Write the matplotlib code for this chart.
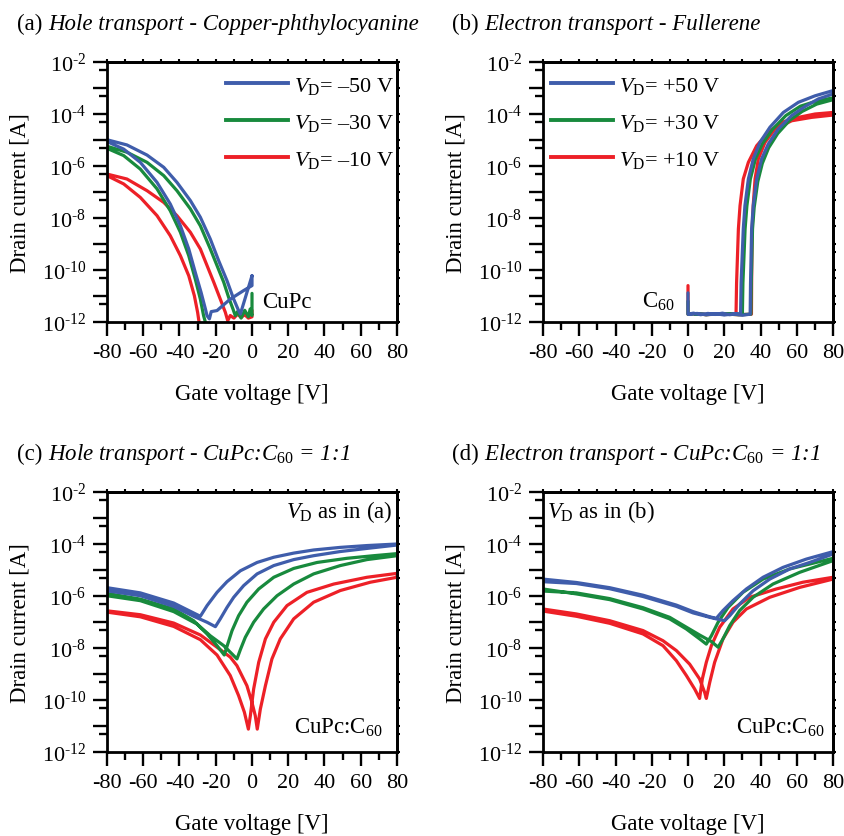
import numpy as np
import matplotlib
matplotlib.use('Agg')
import matplotlib.pyplot as plt
from matplotlib.ticker import FixedLocator, FixedFormatter, NullFormatter
from matplotlib.lines import Line2D

plt.rcParams.update({
    'font.family': ['Liberation Serif', 'DejaVu Serif'],
    'mathtext.fontset': 'custom',
    'mathtext.rm': 'Liberation Serif',
    'mathtext.it': 'Liberation Serif:italic',
    'mathtext.bf': 'Liberation Serif:bold',
    'axes.linewidth': 2.0,
})

# ---------------- data (gate voltage [V], log10 of drain current [A]) ----------------
x_ticks = [-80, -60, -40, -20, 0, 20, 40, 60, 80]
x_tick_labels = ['-80', '-60', '-40', '-20', '0', '20', '40', '60', '80']
x_minor = [-70, -50, -30, -10, 10, 30, 50, 70]
y_exps = list(range(-12, -1))
y_tick_labels = [r'$10^{\text{-%d}}$' % (-e) if e % 2 == 0 else '' for e in y_exps]
y_minor_exps = list(range(-12, -2))

# (a) CuPc, hole transport
a_blue_V = [0.0, -6.4, -7.4, -10.1, -13.8, -18.4, -23.0, -28.5, -34.0, -41.4, -48.7, -57.9, -69.0, -80.0,
            -80.0, -70.8, -61.6, -52.4, -45.1, -39.5, -34.9, -31.3, -28.1, -25.7, -24.8, -23.5, -22.5,
            -19.3, -12.0, -4.6, 0.0, 0.0]
a_blue_L = [-10.22, -11.69, -11.56, -11.12, -10.41, -9.64, -8.81, -7.97, -7.33, -6.63, -6.05, -5.58, -5.19, -4.99,
            -5.06, -5.35, -5.86, -6.63, -7.46, -8.30, -9.19, -10.09, -10.86, -11.5, -11.76, -11.88, -11.6,
            -11.56, -11.12, -10.79, -10.6, -10.22]
a_green_V = [-25.5, -25.7, -26.7, -28.5, -31.3, -34.9, -39.5, -45.1, -52.4, -61.6, -70.8, -80.0,
             -80.0, -69.0, -57.9, -48.7, -41.4, -34.0, -28.5, -23.0, -19.3, -15.6, -12.9, -10.5, -9.2,
             -8.0, -6.0, -4.0, -2.0, -1.0, 0.0, 0.0]
a_green_L = [-12.3, -12.01, -11.76, -11.12, -10.35, -9.45, -8.55, -7.72, -6.88, -6.12, -5.60, -5.32,
             -5.24, -5.47, -5.86, -6.37, -6.95, -7.65, -8.30, -9.19, -9.83, -10.47, -11.05, -11.5, -11.76,
             -11.6, -11.85, -11.55, -11.8, -11.5, -11.75, -10.9]
a_red_V = [-29.0, -29.2, -30.0, -31.8, -34.9, -39.5, -45.1, -52.4, -61.6, -70.8, -80.0,
           -80.0, -69.0, -57.9, -48.7, -41.4, -34.0, -28.5, -24.8, -21.1, -17.5, -14.7, -13.4,
           -12.0, -10.0, -8.0, -6.0, -4.0, -2.0, 0.0, 0.0]
a_red_L = [-12.3, -12.01, -11.63, -10.99, -10.22, -9.45, -8.68, -7.91, -7.21, -6.69, -6.37,
           -6.31, -6.50, -6.95, -7.40, -7.91, -8.55, -9.19, -9.83, -10.47, -11.12, -11.63, -11.95,
           -11.75, -11.85, -11.7, -11.82, -11.72, -11.85, -11.8, -11.55]

# (b) C60, electron transport
b_blue_V = [0.0, 0.0, 3, 7, 11, 15, 19, 23, 27, 29.0,
            29.3, 30.5, 31.4, 33.3, 36.0, 39.7, 45.2, 52.6, 60.9, 70.1, 80.0,
            80.0, 71.9, 64.6, 57.2, 49.8, 44.3, 40.6, 37.9, 36.0, 35.1, 34.5, 34.3,
            30, 25, 20, 15, 10, 5, 1]
b_blue_L = [-10.88, -11.7, -11.66, -11.72, -11.67, -11.71, -11.66, -11.72, -11.68, -11.7,
            -10.5, -8.42, -7.53, -6.50, -5.73, -5.09, -4.51, -3.94, -3.55, -3.30, -3.10,
            -3.23, -3.42, -3.71, -4.06, -4.58, -5.15, -5.73, -6.50, -7.53, -8.42, -10.5, -11.7,
            -11.74, -11.69, -11.73, -11.68, -11.72, -11.67, -11.71]
b_green_V = [0.0, 0.0, 5, 10, 15, 20, 25, 30.0,
             30.3, 31.5, 32.5, 34.4, 37.2, 41.0, 46.5, 54.0, 62.0, 71.0, 80.0,
             80.0, 71.0, 63.0, 56.0, 49.5, 44.5, 41.0, 38.5, 36.5, 35.6, 34.9, 34.7,
             28, 20, 12, 4]
b_green_L = [-11.2, -11.7, -11.68, -11.72, -11.69, -11.71, -11.68, -11.7,
             -10.5, -8.42, -7.53, -6.50, -5.73, -5.15, -4.6, -4.06, -3.7, -3.5, -3.38,
             -3.45, -3.62, -3.9, -4.25, -4.75, -5.3, -5.9, -6.6, -7.6, -8.42, -10.5, -11.7,
             -11.72, -11.69, -11.71, -11.7]
b_red_V = [0.0, 0.0, 5, 10, 15, 20, 26.5,
           26.8, 27.8, 28.7, 30.5, 33.3, 37.9, 44.3, 51.7, 60.9, 70.1, 80.0,
           80.0, 68.2, 57.2, 48.0, 42.5, 38.8, 37.0, 36.0, 35.4, 35.1, 35.0,
           28, 20, 12, 4]
b_red_L = [-10.6, -11.7, -11.68, -11.72, -11.69, -11.71, -11.7,
           -10.5, -8.42, -7.53, -6.50, -5.86, -5.22, -4.71, -4.32, -4.13, -4.00, -3.94,
           -4.04, -4.13, -4.26, -4.58, -5.09, -5.73, -6.5, -7.5, -8.42, -10.5, -11.7,
           -11.72, -11.69, -11.71, -11.7]

# (c) CuPc:C60 1:1, hole transport
c_blue_V = [-80, -61.6, -43.2, -34.0, -28.5, -24.8, -19.3, -13.8, -6.4, 2.8, 12.0, 23.0, 34.0, 48.7, 63.4, 80,
            80, 63.4, 48.7, 34.0, 23.0, 12.0, 2.8, -4.6, -10.1, -13.8, -17.5, -20.2, -24.8, -32.2, -43.2,
            -61.6, -80]
c_blue_L = [-5.68, -5.88, -6.27, -6.59, -6.78, -6.37, -5.86, -5.45, -5.03, -4.71, -4.51, -4.35, -4.23, -4.13,
            -4.06, -4.00,
            -4.04, -4.17, -4.29, -4.45, -4.60, -4.83, -5.15, -5.60, -6.05, -6.44, -6.88, -7.18, -7.01, -6.78,
            -6.40, -5.99, -5.80]
c_green_V = [-80, -61.6, -43.2, -32.2, -24.8, -19.3, -15.3, -13.4, -11.0, -7.4, -2.8, 3.7, 12.0, 23.0, 35.9,
             52.4, 67.1, 80,
             80, 63.4, 48.7, 34.0, 23.0, 13.8, 6.4, 0.9, -3.7, -6.4, -8.3, -11.0, -15.6, -23.0, -30.3, -43.2,
             -61.6, -80]
c_green_L = [-5.90, -6.12, -6.50, -6.95, -7.46, -7.91, -8.27, -7.85, -7.33, -6.76, -6.24, -5.73, -5.28, -4.94,
             -4.71, -4.55, -4.45, -4.37,
             -4.45, -4.60, -4.83, -5.15, -5.54, -5.99, -6.50, -7.01, -7.59, -8.06, -8.42, -8.23, -7.91, -7.53,
             -7.08, -6.60, -6.18, -5.99]
c_red_V = [-80, -61.6, -43.2, -28.5, -19.3, -12.0, -7.4, -4.2, -2.0, -0.9, 0.9, 3.7, 7.4, 12.0, 19.3, 30.3,
           45.1, 63.4, 80,
           80, 65.3, 48.7, 34.0, 23.0, 15.6, 11.0, 7.4, 4.6, 2.9, 1.8, 0.0, -2.8, -8.3, -12.0, -19.3, -28.5,
           -43.2, -61.6, -80]
c_red_L = [-6.62, -6.80, -7.17, -7.68, -8.27, -9.06, -9.83, -10.47, -11.12, -10.60, -9.58, -8.55, -7.65, -7.01,
           -6.37, -5.86, -5.54, -5.28, -5.13,
           -5.28, -5.47, -5.79, -6.24, -6.88, -7.65, -8.42, -9.45, -10.35, -11.12, -10.6, -10.1, -9.45, -8.68,
           -8.35, -7.97, -7.5, -7.04, -6.72, -6.57]

# (d) CuPc:C60 1:1, electron transport
d_blue_V = [-80, -61.6, -43.2, -24.8, -6.4, 2.8, 12.0, 15.6, 19.3, 24.8, 32.2, 41.4, 52.4, 65.3, 80,
            80, 67.1, 56.1, 45.1, 35.9, 28.5, 23.0, 20.2, 15.6, 12.0, 2.8, -6.4, -24.8, -43.2, -61.6, -80]
d_blue_L = [-5.35, -5.48, -5.68, -5.97, -6.35, -6.6, -6.8, -6.86, -6.56, -6.18, -5.73, -5.28, -4.90, -4.58,
            -4.295,
            -4.385, -4.71, -4.96, -5.35, -5.80, -6.31, -6.76, -6.95, -6.88, -6.82, -6.65, -6.4, -6.02, -5.72,
            -5.52, -5.45]
d_green_V = [-80, -61.6, -43.2, -24.8, -10.1, -0.9, 6.4, 10.1, 12.9, 16.6, 22.1, 30.3, 41.4, 56.1, 80,
             80, 61.6, 46.9, 35.9, 28.5, 23.0, 19.3, 16.6, 12.9, 6.4, -0.9, -10.1, -24.8, -43.2, -61.6, -80]
d_green_L = [-5.73, -5.92, -6.14, -6.50, -6.88, -7.27, -7.65, -7.85, -7.53, -7.01, -6.44, -5.86, -5.35, -4.96,
             -4.55,
             -4.64, -5.09, -5.54, -6.05, -6.56, -7.14, -7.65, -7.97, -7.75, -7.5, -7.2, -6.82, -6.45, -6.1,
             -5.88, -5.81]
d_red_V = [-80, -61.6, -43.2, -24.8, -13.8, -6.4, -0.9, 3.7, 6.4, 7.9, 10.1, 12.9, 17.5, 24.8, 34.0, 48.7,
           63.4, 80,
           80, 61.6, 45.1, 32.2, 24.8, 19.3, 14.7, 12.0, 10.1, 9.2, 6.4, 0.9, -6.4, -13.8, -24.8, -43.2, -61.6,
           -80]
d_red_L = [-6.58, -6.78, -7.05, -7.46, -7.91, -8.49, -9.06, -9.58, -9.94, -9.19, -8.55, -7.91, -7.20, -6.50,
           -6.05, -5.73, -5.47, -5.28,
           -5.35, -5.67, -6.05, -6.50, -7.01, -7.65, -8.55, -9.32, -9.94, -9.71, -9.19, -8.62, -8.10, -7.72,
           -7.33, -6.95, -6.69, -6.50]

legend_a = [r'$V_{\mathrm{D}}$= –50 V', r'$V_{\mathrm{D}}$= –30 V', r'$V_{\mathrm{D}}$= –10 V']
legend_b = [r'$V_{\mathrm{D}}$= +50 V', r'$V_{\mathrm{D}}$= +30 V', r'$V_{\mathrm{D}}$= +10 V']

# ---------------- styling ----------------
BLUE = '#3f5dab'
GREEN = '#188a3d'
RED = '#ed2027'
LW = 2.3
FS_TICK = 16
FS_LABEL = 16.5
FS_TEXT = 16.5
FS_LEG = 16

W, H = 845, 837
fig = plt.figure(figsize=(W / 100, H / 100), dpi=100)


def rect(l, t, r, b):
    return [l / W, 1 - b / H, (r - l) / W, (b - t) / H]


axA = fig.add_axes(rect(107, 63, 397, 323))
axB = fig.add_axes(rect(543, 63, 833, 323))
axC = fig.add_axes(rect(107, 493, 397, 753))
axD = fig.add_axes(rect(543, 493, 833, 753))


def style(ax):
    ax.set_yscale('log')
    ax.set_xlim(-80, 80)
    ax.set_ylim(1e-12, 1e-2)
    ax.xaxis.set_major_locator(FixedLocator(x_ticks))
    ax.xaxis.set_major_formatter(FixedFormatter(x_tick_labels))
    ax.xaxis.set_minor_locator(FixedLocator(x_minor))
    ax.yaxis.set_major_locator(FixedLocator([10.0 ** e for e in y_exps]))
    ax.yaxis.set_major_formatter(FixedFormatter(y_tick_labels))
    ax.yaxis.set_minor_locator(FixedLocator([5 * 10.0 ** e for e in y_minor_exps]))
    ax.yaxis.set_minor_formatter(NullFormatter())
    ax.tick_params(which='major', direction='out', length=10, width=1.7, labelsize=FS_TICK)
    ax.tick_params(which='minor', direction='out', length=6, width=1.7)
    ax.tick_params(axis='x', which='major', pad=5)
    ax.tick_params(axis='y', which='major', pad=5)
    ax.set_xlabel('Gate voltage [V]', fontsize=FS_LABEL)
    ax.set_ylabel('Drain current [A]', fontsize=FS_LABEL)
    ax.xaxis.set_label_coords(0.5, -0.235)
    ax.yaxis.set_label_coords(-0.265, 0.5)
    sx = ax.secondary_xaxis('top')
    sx.xaxis.set_major_locator(FixedLocator(x_ticks))
    sx.xaxis.set_minor_locator(FixedLocator(x_minor))
    sx.tick_params(which='both', direction='out', length=2.5, width=1.5, labeltop=False)
    sy = ax.secondary_yaxis('right')
    sy.yaxis.set_major_locator(FixedLocator([10.0 ** e for e in y_exps]))
    sy.yaxis.set_minor_locator(FixedLocator([5 * 10.0 ** e for e in y_minor_exps]))
    sy.yaxis.set_minor_formatter(NullFormatter())
    sy.tick_params(which='both', direction='out', length=2.5, width=1.5, labelright=False)


def draw(ax, V, L, color):
    ax.plot(V, 10.0 ** np.array(L), color=color, lw=LW, solid_joinstyle='round',
            solid_capstyle='round')


for ax in (axA, axB, axC, axD):
    style(ax)

draw(axA, a_red_V, a_red_L, RED)
draw(axA, a_green_V, a_green_L, GREEN)
draw(axA, a_blue_V, a_blue_L, BLUE)
draw(axB, b_red_V, b_red_L, RED)
draw(axB, b_green_V, b_green_L, GREEN)
draw(axB, b_blue_V, b_blue_L, BLUE)
draw(axC, c_red_V, c_red_L, RED)
draw(axC, c_green_V, c_green_L, GREEN)
draw(axC, c_blue_V, c_blue_L, BLUE)
draw(axD, d_red_V, d_red_L, RED)
draw(axD, d_green_V, d_green_L, GREEN)
draw(axD, d_blue_V, d_blue_L, BLUE)

handles = [Line2D([], [], color=c, lw=LW + 0.5) for c in (BLUE, GREEN, RED)]
leg_kw = dict(frameon=False, fontsize=FS_LEG, handlelength=2.8, handletextpad=0.25,
              labelspacing=0.72, borderaxespad=0.1, borderpad=0.2)
axA.legend(handles, legend_a, loc='upper right', bbox_to_anchor=(1.012, 0.977), **leg_kw)
axB.legend(handles, legend_b, loc='upper left', bbox_to_anchor=(0.005, 0.977), **leg_kw)

axA.text(0.534, 0.058, 'CuPc', transform=axA.transAxes, fontsize=FS_TEXT, ha='left', va='baseline')
axB.text(0.455, 0.058, r'C$_{60}$', transform=axB.transAxes, fontsize=FS_TEXT, ha='right', va='baseline')
axC.text(0.986, 0.903, r'$V_{\mathrm{D}}$ as in (a)', transform=axC.transAxes, fontsize=FS_TEXT,
         ha='right', va='baseline')
axC.text(0.952, 0.073, r'CuPc:C$_{60}$', transform=axC.transAxes, fontsize=FS_TEXT,
         ha='right', va='baseline')
axD.text(0.014, 0.903, r'$V_{\mathrm{D}}$ as in (b)', transform=axD.transAxes, fontsize=FS_TEXT,
         ha='left', va='baseline')
axD.text(0.972, 0.073, r'CuPc:C$_{60}$', transform=axD.transAxes, fontsize=FS_TEXT,
         ha='right', va='baseline')

titles = [
    (17, 30, '(a) ', 'Hole transport - Copper-phthylocyanine'),
    (452, 30, '(b) ', 'Electron transport - Fullerene'),
    (17, 460, '(c) ', r'Hole transport - CuPc:C$_{\mathit{60}}$ = 1:1'),
    (452, 460, '(d) ', r'Electron transport - CuPc:C$_{\mathit{60}}$ = 1:1'),
]
renderer = fig.canvas.get_renderer()
for px, py, lead, rest in titles:
    t1 = fig.text(px / W, 1 - py / H, lead, fontsize=FS_LABEL, ha='left', va='baseline')
    bb = t1.get_window_extent(renderer=renderer)
    fig.text(bb.x1 / W, 1 - py / H, rest, fontsize=FS_LABEL, ha='left', va='baseline',
             style='italic')

fig.savefig('out.png', dpi=100)
